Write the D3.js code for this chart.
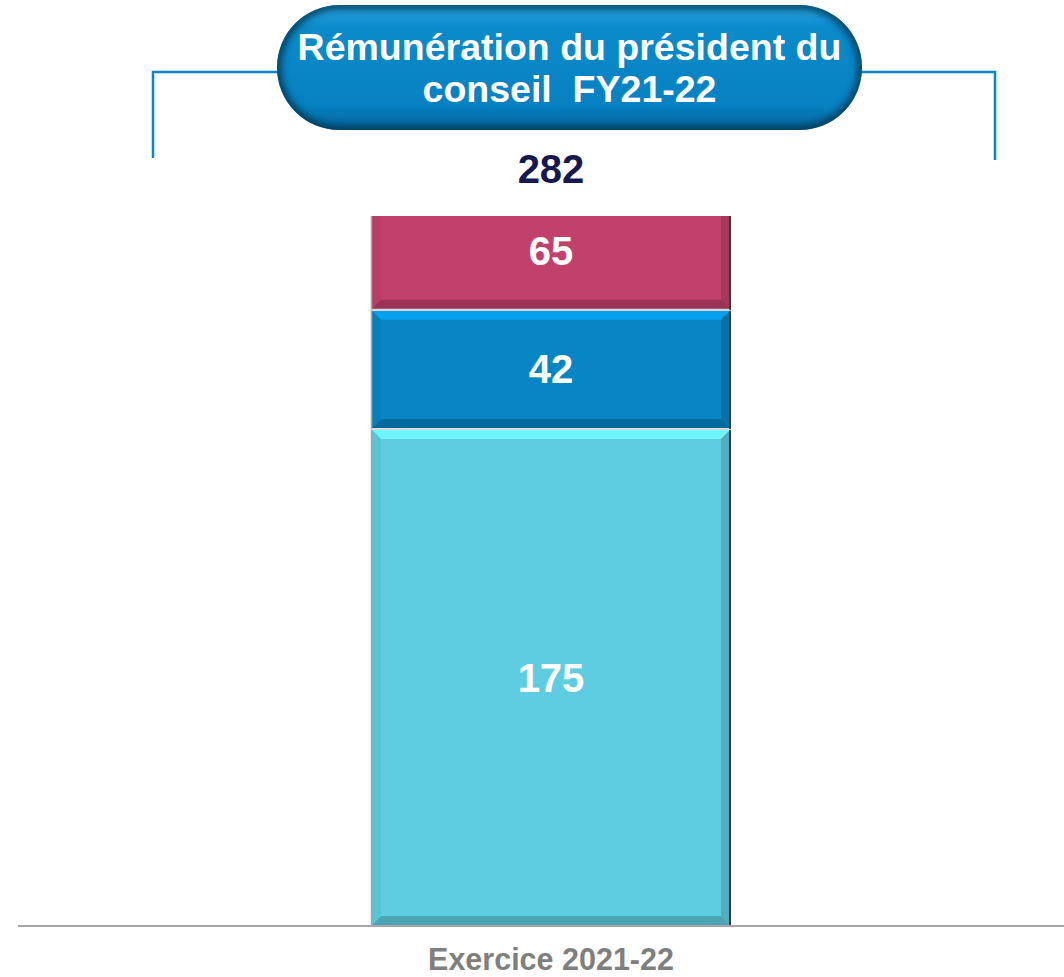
<!DOCTYPE html>
<html>
<head>
<meta charset="utf-8">
<script src="https://cdn.jsdelivr.net/npm/d3@7"></script>
<style>
  html, body { margin: 0; padding: 0; background: #ffffff; }
  svg { display: block; font-family: "Liberation Sans", Arial, sans-serif; }
  .title-line { white-space: pre; }
</style>
</head>
<body>
<svg id="chart" width="1064" height="977"></svg>
<script>
// Chairman's compensation FY21-22 (k€), stacked by component
const categories = ["Exercice 2021-22"];
const seriesNames = ["Fixe", "Variable", "Autres"];
const seriesValues = [[175], [42], [65]];
const seriesColors = ["#5ecde2", "#0785c5", "#c2406c"];
const totals = [282];
const titleLines = ["Rémunération du président du", "conseil  FY21-22"];
const yDomain = [0, 250];

const svg = d3.select("#chart");
const W = 1064, H = 977;
const plot = { left: 18, right: 1064, top: 216, bottom: 926 };

const x = d3.scaleBand().domain(categories).range([191, 911]).paddingInner(0).paddingOuter(0.5);
const y = d3.scaleLinear().domain(yDomain).range([plot.bottom, plot.top]);

const defs = svg.append("defs");
defs.append("clipPath").attr("id", "plotClip")
  .append("rect").attr("x", 0).attr("y", plot.top).attr("width", W).attr("height", plot.bottom - plot.top + 2);

// ----- title badge with side brackets -----
const pill = { x: 277, y: 5, w: 585, h: 125 };
const bracketColor = "#0a86c7";
svg.append("path")
  .attr("d", `M153,158 L153,72 L${pill.x + 10},72`)
  .attr("fill", "none").attr("stroke", bracketColor).attr("stroke-width", 2.5);
svg.append("path")
  .attr("d", `M${pill.x + pill.w - 10},72 L995,72 L995,160`)
  .attr("fill", "none").attr("stroke", bracketColor).attr("stroke-width", 2.5);

const pg = defs.append("linearGradient").attr("id", "pillGrad").attr("x1", 0).attr("y1", 0).attr("x2", 0).attr("y2", 1);
pg.append("stop").attr("offset", "0%").attr("stop-color", "#2aa2de");
pg.append("stop").attr("offset", "18%").attr("stop-color", "#0b8bcb");
pg.append("stop").attr("offset", "80%").attr("stop-color", "#0781c1");
pg.append("stop").attr("offset", "100%").attr("stop-color", "#05659c");

defs.append("clipPath").attr("id", "pillClip")
  .append("rect").attr("x", pill.x).attr("y", pill.y).attr("width", pill.w).attr("height", pill.h)
  .attr("rx", pill.h / 2).attr("ry", pill.h / 2);
const blur = defs.append("filter").attr("id", "rimBlur").attr("x", "-10%").attr("y", "-10%").attr("width", "120%").attr("height", "120%");
blur.append("feGaussianBlur").attr("stdDeviation", 3.5);

svg.append("rect")
  .attr("x", pill.x).attr("y", pill.y).attr("width", pill.w).attr("height", pill.h)
  .attr("rx", pill.h / 2).attr("ry", pill.h / 2)
  .attr("fill", "url(#pillGrad)");
svg.append("g").attr("clip-path", "url(#pillClip)")
  .append("rect")
  .attr("x", pill.x).attr("y", pill.y).attr("width", pill.w).attr("height", pill.h)
  .attr("rx", pill.h / 2).attr("ry", pill.h / 2)
  .attr("fill", "none").attr("stroke", "#02344f").attr("stroke-width", 9)
  .attr("filter", "url(#rimBlur)").attr("opacity", 0.85);

svg.append("g").selectAll("text").data(titleLines).join("text")
  .attr("class", "title-line")
  .attr("x", pill.x + pill.w / 2)
  .attr("y", (d, i) => 60 + i * 42)
  .attr("text-anchor", "middle")
  .attr("fill", "#ffffff").attr("font-weight", "bold").attr("font-size", 37.5)
  .text(d => d);

// ----- stacked bar -----
const stackData = categories.map((c, i) => {
  const o = { category: c };
  seriesNames.forEach((s, k) => { o[s] = seriesValues[k][i]; });
  return o;
});
const stacked = d3.stack().keys(seriesNames)(stackData);

const barG = svg.append("g").attr("clip-path", "url(#plotClip)");
const bevel = 10;

stacked.forEach((layer, k) => {
  layer.forEach(seg => {
    const x0 = x(seg.data.category), x1 = x0 + x.bandwidth();
    const yb = y(seg[0]), yt = y(seg[1]);
    const base = d3.color(seriesColors[k]);
    const g = barG.append("g");
    g.append("rect").attr("x", x0).attr("y", yt).attr("width", x1 - x0).attr("height", yb - yt)
      .attr("fill", base.formatHex());
    // bevel faces
    const faces = [
      { pts: [[x0, yt], [x1, yt], [x1 - bevel, yt + bevel], [x0 + bevel, yt + bevel]], col: base.brighter(0.55), op: 0.9 },
      { pts: [[x1, yt], [x1, yb], [x1 - bevel, yb - bevel], [x1 - bevel, yt + bevel]], col: base.darker(0.6), op: 0.8 },
      { pts: [[x0, yb], [x1, yb], [x1 - bevel, yb - bevel], [x0 + bevel, yb - bevel]], col: base.darker(0.75), op: 0.85 },
      { pts: [[x0, yt], [x0 + bevel, yt + bevel], [x0 + bevel, yb - bevel], [x0, yb]], col: base.darker(0.2), op: 0.7 }
    ];
    faces.forEach(f => {
      g.append("polygon").attr("points", f.pts.map(p => p.join(",")).join(" "))
        .attr("fill", f.col.formatHex()).attr("opacity", f.op);
    });
    // outline: light separators, grey left edge, dark right edge
    g.append("line").attr("x1", x0).attr("x2", x1).attr("y1", yb).attr("y2", yb)
      .attr("stroke", "#d9d9d9").attr("stroke-width", 2);
    g.append("line").attr("x1", x0).attr("x2", x1).attr("y1", yt).attr("y2", yt)
      .attr("stroke", "#d9d9d9").attr("stroke-width", 2);
    g.append("line").attr("x1", x0 + 0.5).attr("x2", x0 + 0.5).attr("y1", yt).attr("y2", yb)
      .attr("stroke", "#a6a6a6").attr("stroke-width", 1.5);
    g.append("line").attr("x1", x1 - 1).attr("x2", x1 - 1).attr("y1", yt).attr("y2", yb)
      .attr("stroke", "#3a3a3a").attr("stroke-width", 2);
  });
});

// segment value labels, centred in the visible part of each segment
const labelG = svg.append("g");
stacked.forEach((layer, k) => {
  layer.forEach(seg => {
    const yb = y(seg[0]);
    const ytRaw = y(seg[1]);
    const clipped = ytRaw < plot.top;
    const yt = Math.max(ytRaw, plot.top);
    const cy = (yb + yt) / 2 - (clipped ? 12 : 0);
    labelG.append("text")
      .attr("x", x(seg.data.category) + x.bandwidth() / 2)
      .attr("y", cy + 14)
      .attr("text-anchor", "middle")
      .attr("fill", "#ffffff").attr("font-weight", "bold").attr("font-size", 40)
      .text(seg[1] - seg[0]);
  });
});

// total above the bar
svg.append("g").selectAll("text").data(categories).join("text")
  .attr("x", d => x(d) + x.bandwidth() / 2)
  .attr("y", 183)
  .attr("text-anchor", "middle")
  .attr("fill", "#16184f").attr("font-weight", "bold").attr("font-size", 40)
  .text((d, i) => totals[i]);

// category axis
const xAxis = svg.append("g").attr("transform", `translate(0,${plot.bottom})`)
  .call(d3.axisBottom(x).tickSize(0).tickPadding(0));
xAxis.select(".domain").attr("d", `M${plot.left},0H${plot.right}`)
  .attr("stroke", "#a6a6a6").attr("stroke-width", 2);
xAxis.selectAll(".tick text")
  .attr("y", 44).attr("dy", 0)
  .attr("fill", "#7f7f7f").attr("font-weight", "bold").attr("font-size", 30.5)
  .attr("font-family", "'Liberation Sans', Arial, sans-serif");
</script>
</body>
</html>
